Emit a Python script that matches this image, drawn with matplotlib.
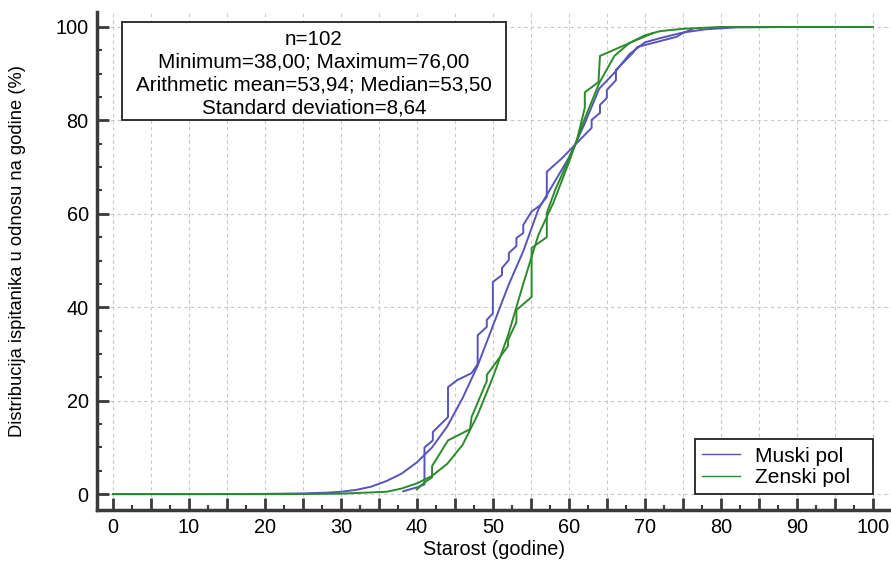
import numpy as np
import matplotlib
matplotlib.use("Agg")
import matplotlib.pyplot as plt
from matplotlib.ticker import MultipleLocator, FuncFormatter
from matplotlib.patches import Rectangle

plt.rcParams['font.family'] = ['Liberation Sans', 'DejaVu Sans']

#------------------------------------------------------------------ data
# empirical cumulative distribution (vertices read off the chart)
muski_x = [38.2, 40.1, 41.0, 41.0, 42.1, 42.1, 44.1, 44.1, 45.3, 47.2, 48.0, 48.0,
           49.2, 49.2, 50.0, 50.0, 51.2, 51.2, 52.1, 52.1, 53.1, 53.1, 54.0, 54.0,
           55.1, 56.2, 57.1, 57.1, 59.1, 63.0, 63.0, 64.1, 64.1, 65.0, 65.0, 66.2,
           66.2, 68.4, 69.0, 74.2, 75.0, 76.2]
muski_y = [0.6, 1.5, 2.1, 10.0, 11.5, 13.3, 16.5, 22.9, 24.4, 25.9, 27.8, 34.0,
           35.8, 37.3, 38.7, 45.4, 46.9, 48.4, 50.1, 51.6, 53.1, 54.8, 55.9, 57.6,
           60.5, 61.8, 63.6, 69.0, 71.9, 78.4, 80.1, 81.6, 83.3, 84.8, 86.5, 88.6,
           90.8, 94.4, 95.7, 97.9, 98.7, 99.5]

zenski_x = [40.0, 41.0, 42.0, 42.0, 44.1, 47.0, 47.2, 49.2, 49.2, 52.0, 52.0, 53.1,
            53.1, 55.1, 55.1, 57.1, 57.1, 58.2, 61.0, 62.1, 62.1, 63.9, 64.1, 68.9,
            71.1]
zenski_y = [1.0, 2.5, 3.6, 6.0, 11.5, 13.9, 16.5, 24.2, 25.5, 31.7, 33.0, 36.8,
            39.4, 42.2, 52.7, 55.0, 60.2, 65.1, 75.4, 82.7, 86.0, 88.2, 93.8, 97.2,
            98.7]

# fitted curves
muski_fit_x = [0, 10, 20, 25, 28, 30, 32, 34, 36, 38, 40, 42, 44, 46, 48, 50, 52,
               54, 56, 58, 60, 62, 64, 66, 68, 70, 72, 75, 78, 82, 90, 100]
muski_fit_y = [0, 0, 0.05, 0.15, 0.3, 0.5, 0.9, 1.6, 2.8, 4.4, 6.8, 10, 14.5, 20.5,
               27.5, 36, 44.5, 52, 61, 66.5, 72, 79, 86.8, 90.2, 94.2, 96.7, 97.6,
               98.8, 99.5, 99.9, 100, 100]

zenski_fit_x = [0, 20, 25, 30, 33, 36, 38, 40, 42, 44, 46, 48, 50, 52, 54, 56, 58,
                60, 62, 64, 66, 68, 70, 72, 75, 80, 90, 100]
zenski_fit_y = [0, 0, 0.02, 0.1, 0.3, 0.5, 1.2, 2.3, 3.9, 6.5, 10.5, 17, 25, 34,
                45, 55.5, 62.5, 71, 80, 88, 93.8, 96.6, 98.2, 99.1, 99.6, 100, 100, 100]

stats_lines = ["n=102",
               "Minimum=38,00; Maximum=76,00",
               "Arithmetic mean=53,94; Median=53,50",
               "Standard deviation=8,64"]

BLUE = '#5555bb'
GREEN = '#2b8a2b'
AXC = '#3a3a3a'

#------------------------------------------------------------------ plot
fig = plt.figure(figsize=(8.91, 5.61), dpi=100)
ax = fig.add_axes([97/891, 51/561, 794/891, 498/561])

ax.plot(muski_fit_x, muski_fit_y, c=BLUE, lw=1.4, label='Muski pol')
ax.plot(muski_x, muski_y, c=BLUE, lw=1.4)
ax.plot(zenski_fit_x, zenski_fit_y, c=GREEN, lw=1.4, label='Zenski pol')
ax.plot(zenski_x, zenski_y, c=GREEN, lw=1.4)

ax.set_xlim(-2.1, 102.4)
ax.set_ylim(-3.4, 103.2)

ax.xaxis.set_major_locator(MultipleLocator(5))
ax.xaxis.set_minor_locator(MultipleLocator(2.5))
ax.xaxis.set_major_formatter(FuncFormatter(lambda v, p: '%d' % v if round(v) % 10 == 0 else ''))
ax.yaxis.set_major_locator(MultipleLocator(20))
ax.yaxis.set_minor_locator(MultipleLocator(5))

ax.grid(True, which='major', color='#c8c8c8', lw=0.8, ls=(0, (3, 3)))
ax.set_axisbelow(True)

for s in ['top', 'right']:
    ax.spines[s].set_visible(False)
for s in ['left', 'bottom']:
    ax.spines[s].set_linewidth(2.5)
    ax.spines[s].set_color(AXC)

ax.tick_params(which='major', direction='in', length=8.5, width=2, color=AXC,
               labelsize=14.3, pad=6)
ax.tick_params(which='minor', direction='in', length=3.6, width=1.5, color=AXC)

ax.set_xlabel('Starost (godine)', fontsize=14.3)
ax.xaxis.set_label_coords(0.5, -0.06)
ax.set_ylabel('Distribucija ispitanika u odnosu na godine (%)', fontsize=13.2)
ax.yaxis.set_label_coords(-0.089, 0.52)

# statistics box
ax.add_patch(Rectangle((1.2, 80), 50.5, 21, fc='white', ec='#222222', lw=1.3, zorder=5))
ax.text(26.45, 90.0, '\n'.join(stats_lines), ha='center', va='center',
        fontsize=14.9, linespacing=1.24, zorder=6)

leg = ax.legend(loc='lower left', bbox_to_anchor=(76.6, 0, 23.4, 12), mode='expand',
                bbox_transform=ax.transData, borderaxespad=0, fontsize=15,
                fancybox=False, framealpha=1, edgecolor='#222222',
                handlelength=1.8, handletextpad=0.75, borderpad=0.35, labelspacing=0.1)
leg.get_frame().set_linewidth(1.3)
for h in leg.get_lines():
    h.set_linewidth(1.0)

fig.savefig('out.png', dpi=100)
